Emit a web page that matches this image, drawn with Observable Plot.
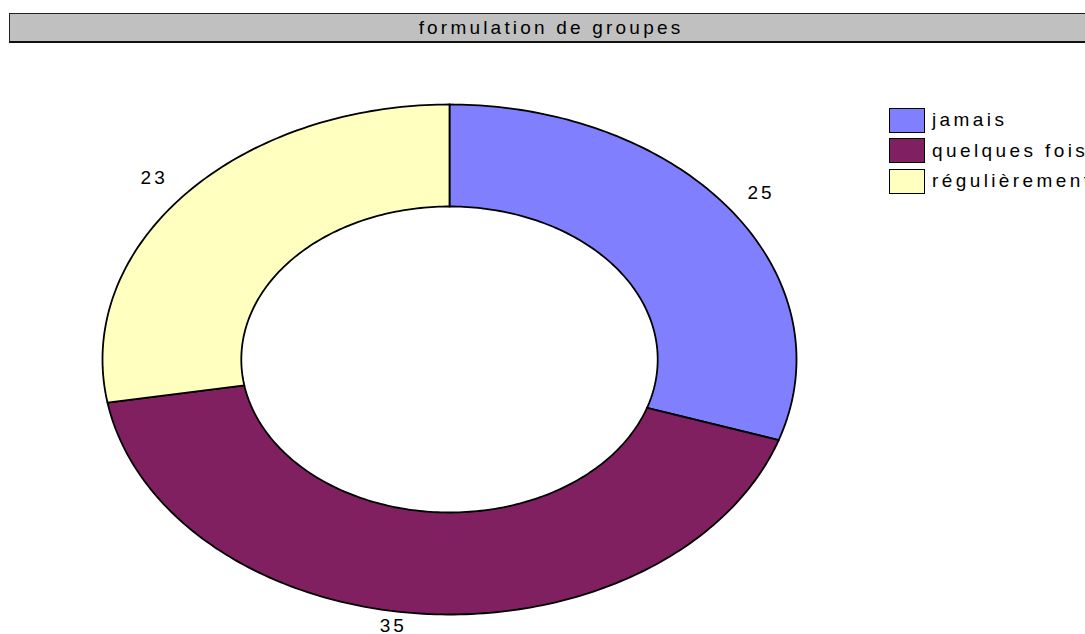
<!DOCTYPE html>
<html>
<head>
<meta charset="utf-8">
<script src="https://cdn.jsdelivr.net/npm/d3@7"></script>
<script src="https://cdn.jsdelivr.net/npm/@observablehq/plot@0.6"></script>
<style>
  html, body { margin: 0; padding: 0; background: #fff; }
  body { width: 1085px; height: 634px; overflow: hidden; position: relative; font-family: "Liberation Sans", Arial, sans-serif; }
  #titlebar { position: absolute; left: 9px; top: 13px; width: 1082px; height: 27px; background: #c0c0c0;
    border-top: 1px solid #222; border-left: 1px solid #222; border-bottom: 2px solid #111;
    display: flex; align-items: center; justify-content: center; font-size: 19px; letter-spacing: 3.2px; color: #000; }
  #legend { position: absolute; left: 889px; top: 105px; }
  .item { display: flex; align-items: center; height: 30.5px; white-space: nowrap; }
  .sw { width: 34px; height: 23px; border: 1.5px solid #000; box-sizing: content-box; margin-right: 7px; }
  .lab { font-size: 19px; letter-spacing: 3.4px; color: #000; }
  #chart { position: absolute; left: 0; top: 0; }
</style>
</head>
<body>
<div id="chart"></div>
<div id="titlebar">formulation de groupes</div>
<div id="legend"></div>
<script>
const title = "formulation de groupes";
const categories = ["jamais", "quelques fois", "régulièrement"];
const values = [25, 35, 23];
const colors = ["#8080ff", "#802060", "#ffffc0"];

const innerRatio = 0.6;
const total = d3.sum(values);

// slice polygons in unit-ellipse coordinates (angle from top, clockwise)
const polys = [];
const labels = [];
let acc = 0;
categories.forEach((name, i) => {
  const a0 = acc / total * 2 * Math.PI;
  acc += values[i];
  const a1 = acc / total * 2 * Math.PI;
  const n = Math.max(8, Math.ceil((a1 - a0) / (Math.PI / 180)));
  const outer = d3.range(n + 1).map(k => a0 + (a1 - a0) * k / n);
  outer.forEach(a => polys.push({name, x: Math.sin(a), y: Math.cos(a)}));
  outer.slice().reverse().forEach(a => polys.push({name, x: innerRatio * Math.sin(a), y: innerRatio * Math.cos(a)}));
  const m = (a0 + a1) / 2;
  const s = Math.sin(m), c = Math.cos(m);
  labels.push({name, value: values[i],
    x: s + Math.sign(s) * 30 / 347,
    y: c + (c > 0 ? 17 : -12) / 255});
});

const chart = Plot.plot({
  width: 1085,
  height: 634,
  margin: 0,
  x: {domain: [-1, 1], range: [102, 796], axis: null},
  y: {domain: [-1, 1], range: [614, 104], axis: null},
  color: {domain: categories, range: colors},
  style: {background: "transparent", fontFamily: "Liberation Sans, Arial, sans-serif"},
  marks: [
    Plot.line(polys, {x: "x", y: "y", z: "name", fill: "name", stroke: "#000", strokeWidth: 1.8, curve: "linear-closed"}),
    Plot.text(labels, {x: "x", y: "y", text: d => String(d.value), fontSize: 19, fill: "#000", textAnchor: "middle", lineAnchor: "middle"})
  ]
});
chart.querySelectorAll("text").forEach(t => t.setAttribute("letter-spacing", "3px"));
document.getElementById("chart").appendChild(chart);

const legend = document.getElementById("legend");
categories.forEach((name, i) => {
  const item = document.createElement("div");
  item.className = "item";
  const sw = document.createElement("div");
  sw.className = "sw";
  sw.style.background = colors[i];
  const lab = document.createElement("span");
  lab.className = "lab";
  lab.textContent = name;
  item.appendChild(sw);
  item.appendChild(lab);
  legend.appendChild(item);
});
document.getElementById("titlebar").textContent = title;
</script>
</body>
</html>
